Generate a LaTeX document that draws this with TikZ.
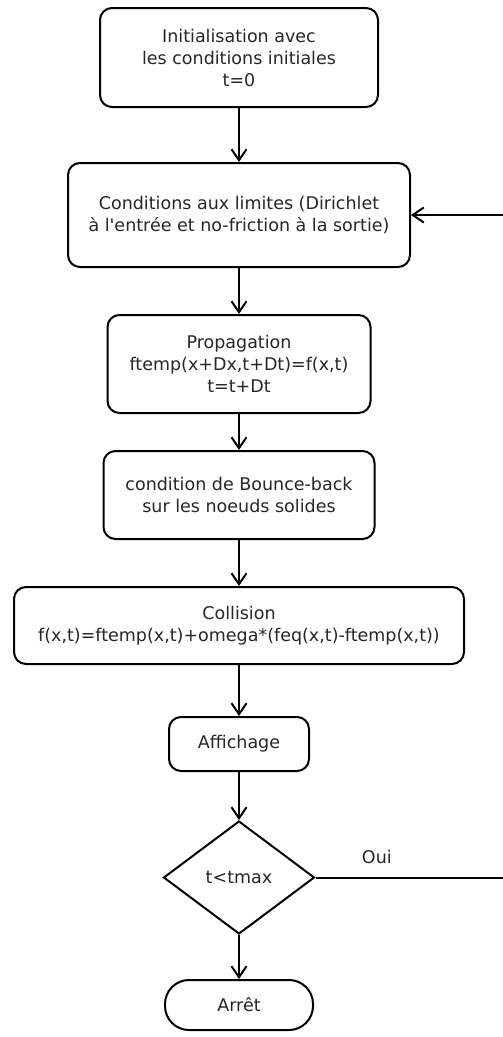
\documentclass[tikz,border=0pt]{standalone}
\usepackage{fontspec}
\setmainfont{DejaVu Sans}
\usetikzlibrary{arrows.meta,positioning,shapes.geometric}

\begin{document}
\begin{tikzpicture}[x=1pt,y=1pt,line width=2pt,
  etape/.style={draw,rounded corners=12pt,align=center,inner sep=0pt},
  test/.style={draw,diamond,aspect=1.34,inner sep=0pt,minimum width=151pt,minimum height=113pt},
  fin/.style={draw,rounded corners=24pt,inner sep=0pt},
  flow/.style={-{Straight Barb[length=11pt,width=15pt]}},
  every node/.style={font=\fontsize{17.5}{22}\selectfont,text=black!85}]

  \useasboundingbox (0,0) rectangle (503,-1037);

  \node[etape,minimum width=278pt,minimum height=99pt] (init) at (239,-57.5) {Initialisation avec\\les conditions initiales\\t=0};
  \node[etape,minimum width=342pt,minimum height=104pt,below=54pt of init] (cond) {Conditions aux limites (Dirichlet\\à l\textquotesingle entrée et no-friction à la sortie)};
  \node[etape,minimum width=263pt,minimum height=98pt,below=46pt of cond] (prop) {Propagation\\ftemp(x+Dx,t+Dt)=f(x,t)\\t=t+Dt};
  \node[etape,minimum width=271pt,minimum height=88pt,below=36pt of prop] (bounce) {condition de Bounce-back\\sur les noeuds solides};
  \node[etape,minimum width=450pt,minimum height=77pt,below=46pt of bounce] (coll) {Collision\\f(x,t)=ftemp(x,t)+omega*(feq(x,t)-ftemp(x,t))};
  \node[etape,minimum width=140pt,minimum height=54pt,below=51pt of coll] (aff) {Affichage};
  \node[test,below=48pt of aff] (dia) {t<tmax};
  \node[fin,minimum width=148pt,minimum height=50pt,below=44pt of dia] (arret) {Arrêt};

  \coordinate (loopR) at (520,0);

  \path[flow] (init) edge (cond);
  \path[flow] (cond) edge (prop);
  \path[flow] (prop) edge (bounce);
  \path[flow] (bounce) edge (coll);
  \path[flow] (coll) edge (aff);
  \path[flow] (aff) edge (dia);
  \path[flow] (dia) edge (arret);

  \draw[flow] (dia.east) -- node[pos=0.3,above=9pt] {Oui} (dia.east -| loopR) |- (cond.east);

\end{tikzpicture}
\end{document}
